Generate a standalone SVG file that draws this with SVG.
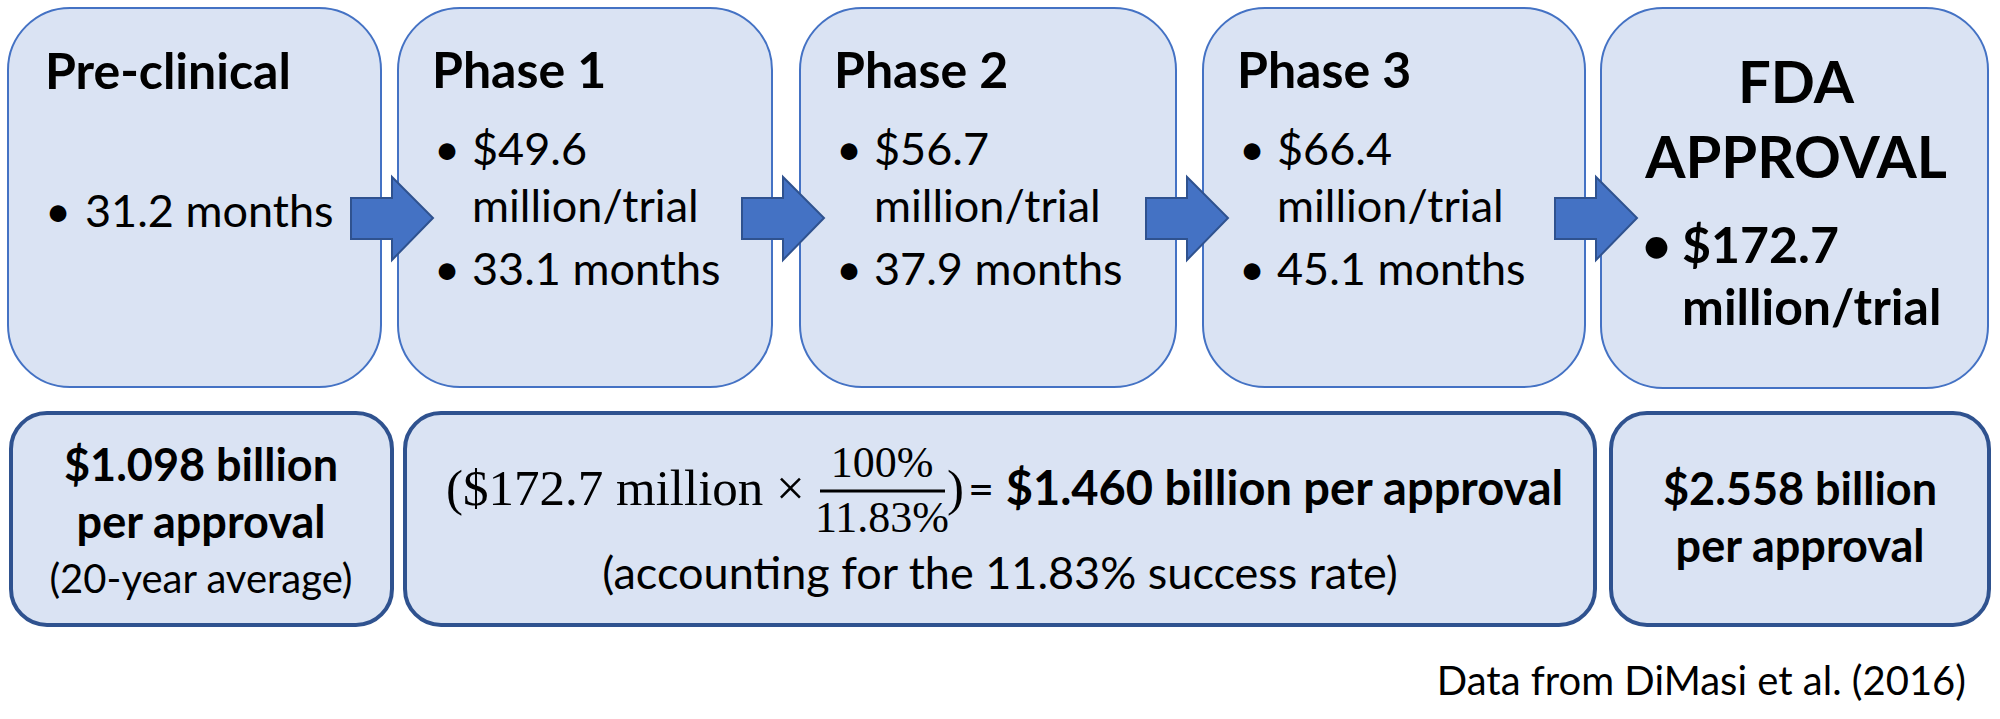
<svg xmlns="http://www.w3.org/2000/svg" width="2000" height="719" viewBox="0 0 2000 719">
<style>
.top{fill:#DAE3F3;stroke:#4472C4;stroke-width:2}
.bot{fill:#DAE3F3;stroke:#2F528F;stroke-width:4}
.arr{fill:#4472C4;stroke:#2F528F;stroke-width:2;stroke-linejoin:miter}
text{font-family:Lato,"Open Sans","Liberation Sans",sans-serif;fill:#000}
.t{font-size:50px;font-weight:bold}
.tf{font-size:58px;font-weight:bold}
.b{font-size:45px}
.bb{font-size:45px;font-weight:bold}
.fb{font-size:50px;font-weight:bold}
.s{font-size:40px}
.m{font-family:"Liberation Serif","DejaVu Serif",serif;font-size:51px}
.mf{font-family:"Liberation Serif","DejaVu Serif",serif;font-size:44px}
.c{text-anchor:middle}
</style>
<rect width="2000" height="719" fill="#fff"/>
<g id="preclinical">
<rect class="top" x="8" y="8" width="373" height="379" rx="62"/>
<text class="t" x="45" y="89">Pre-clinical</text>
<text class="b" x="45" y="227">•</text>
<text class="b" x="85" y="227">31.2 months</text>
</g>
<g id="phase1">
<rect class="top" x="398" y="8" width="374" height="379" rx="62"/>
<text class="t" x="432" y="88">Phase 1</text>
<text class="b" x="434" y="165">•</text>
<text class="b" x="472" y="165">$49.6</text>
<text class="b" x="472" y="222">million/trial</text>
<text class="b" x="434" y="285">•</text>
<text class="b" x="472" y="285">33.1 months</text>
</g>
<g id="phase2">
<rect class="top" x="800" y="8" width="376" height="379" rx="62"/>
<text class="t" x="834" y="88">Phase 2</text>
<text class="b" x="836" y="165">•</text>
<text class="b" x="874" y="165">$56.7</text>
<text class="b" x="874" y="222">million/trial</text>
<text class="b" x="836" y="285">•</text>
<text class="b" x="874" y="285">37.9 months</text>
</g>
<g id="phase3">
<rect class="top" x="1203" y="8" width="382" height="379" rx="62"/>
<text class="t" x="1237" y="88">Phase 3</text>
<text class="b" x="1239" y="165">•</text>
<text class="b" x="1277" y="165">$66.4</text>
<text class="b" x="1277" y="222">million/trial</text>
<text class="b" x="1239" y="285">•</text>
<text class="b" x="1277" y="285">45.1 months</text>
</g>
<g id="fda">
<rect class="top" x="1601" y="8" width="387" height="380" rx="62"/>
<text class="tf c" x="1796" y="103">FDA</text>
<text class="tf c" x="1796" y="178">APPROVAL</text>
<text class="fb" x="1642" y="263">•</text>
<text class="fb" x="1682" y="263">$172.7</text>
<text class="fb" x="1682" y="325">million/trial</text>
</g>
<g id="connectors">
<polygon class="arr" points="351,198 392,198 392,177 433,218 392,260 392,239 351,239"/>
<polygon class="arr" points="742,198 783,198 783,177 824,218 783,260 783,239 742,239"/>
<polygon class="arr" points="1146,198 1187,198 1187,177 1228,218 1187,260 1187,239 1146,239"/>
<polygon class="arr" points="1555,198 1596,198 1596,177 1637,218 1596,260 1596,239 1555,239"/>
</g>
<g id="cost-avg">
<rect class="bot" x="11" y="413" width="381" height="212" rx="36"/>
<text class="bb c" x="201" y="481">$1.098 billion</text>
<text class="bb c" x="201" y="538">per approval</text>
<text class="s c" x="201" y="593">(20-year average)</text>
</g>
<g id="cost-calc">
<rect class="bot" x="405" y="413" width="1190" height="212" rx="36"/>
<text class="m" x="446" y="505">($172.7 million ×</text>
<text class="mf c" x="882" y="477">100%</text>
<line x1="820" y1="491" x2="945" y2="491" stroke="#000" stroke-width="3"/>
<text class="mf c" x="882" y="532">11.83%</text>
<text class="m" x="947" y="505">)</text>
<text class="b" x="968" y="505">= <tspan font-weight="bold" font-size="47">$1.460 billion per approval</tspan></text>
<text class="b c" x="1000" y="589">(accounting for the 11.83% success rate)</text>
</g>
<g id="cost-fda">
<rect class="bot" x="1611" y="413" width="378" height="212" rx="36"/>
<text class="bb c" x="1800" y="505">$2.558 billion</text>
<text class="bb c" x="1800" y="562">per approval</text>
</g>
<text class="s" x="1966" y="695" text-anchor="end">Data from DiMasi et al. (2016)</text>
</svg>
